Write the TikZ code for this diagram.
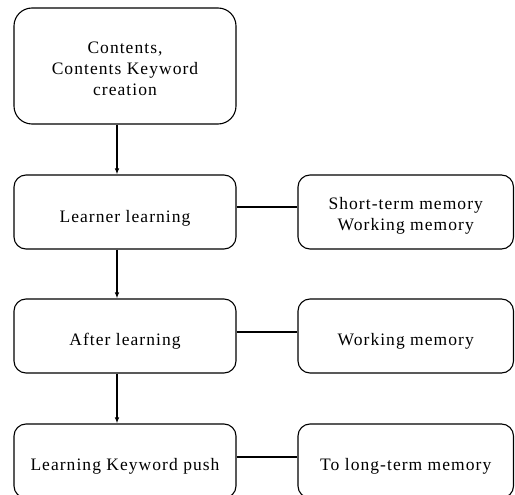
\documentclass[tikz,border=0pt]{standalone}
\usepackage{fontspec}
\setmainfont{Liberation Serif}[LetterSpace=6]
\usetikzlibrary{arrows.meta}
\begin{document}
\begin{tikzpicture}[x=1pt,y=-1pt,
  box/.style={draw, line width=1.1pt, rounded corners=12pt, minimum width=222pt, minimum height=74pt, inner sep=0pt},
  bigbox/.style={box, rounded corners=18pt, minimum height=116pt},
  rbox/.style={box, minimum width=215.5pt},
  txt/.style={font=\fontsize{17.5}{21}\selectfont, align=center, inner sep=0pt},
  link/.style={line width=1.1pt},
  flow/.style={line width=1.1pt, -{Latex[length=6pt,width=4.5pt]}}]
\useasboundingbox (0,0) rectangle (515,495);
% left column
\node[bigbox] (b1) at (125,66) {};
\node[box] (b2) at (125,212) {};
\node[box] (b3) at (125,336) {};
\node[box] (b4) at (125,461) {};
% right column
\node[rbox] (r1) at (405.75,212) {};
\node[rbox] (r2) at (405.75,336) {};
\node[rbox] (r3) at (405.75,461) {};
% texts
\node[txt] (t1) at ([yshift=-2.5pt]b1.center) {Contents,\\Contents Keyword\\creation};
\node[txt] (t2) at ([yshift=-6pt]b2.center) {Learner learning};
\node[txt] (t3) at ([yshift=-5pt]b3.center) {After learning};
\node[txt] (t4) at ([yshift=-5pt]b4.center) {Learning Keyword push};
\node[txt] (u1) at ([yshift=-4pt]r1.center) {Short-term memory\\Working memory};
\node[txt] (u2) at ([yshift=-5pt]r2.center) {Working memory};
\node[txt] (u3) at ([yshift=-5pt]r3.center) {To long-term memory};
% connectors
\draw[flow] ([xshift=-8pt]b1.south) -- ([xshift=-8pt]b2.north);
\draw[flow] ([xshift=-8pt]b2.south) -- ([xshift=-8pt]b3.north);
\draw[flow] ([xshift=-8pt]b3.south) -- ([xshift=-8pt]b4.north);
\draw[link] ([yshift=5pt]b2.east) -- ([yshift=5pt]r1.west);
\draw[link] ([yshift=4pt]b3.east) -- ([yshift=4pt]r2.west);
\draw[link] ([yshift=4pt]b4.east) -- ([yshift=4pt]r3.west);
\end{tikzpicture}
\end{document}
